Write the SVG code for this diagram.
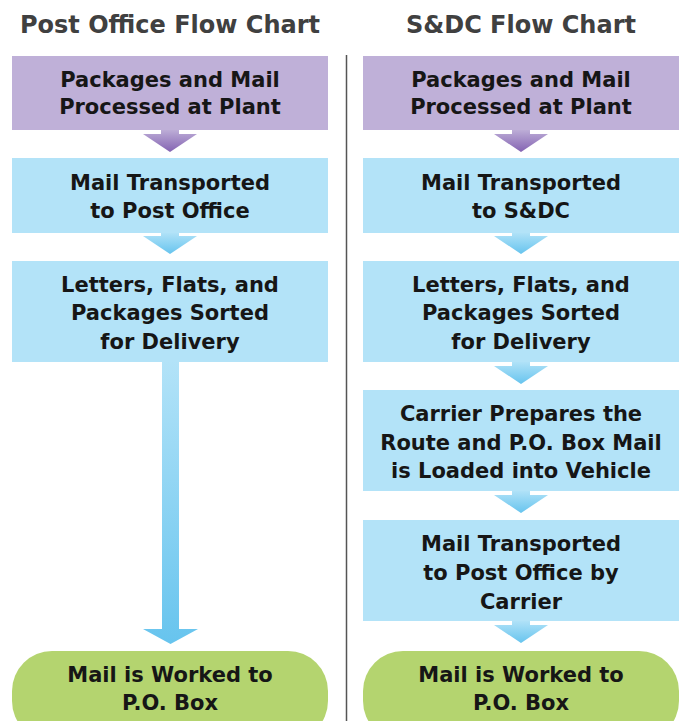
<svg xmlns="http://www.w3.org/2000/svg" width="685" height="721" viewBox="0 0 685 721">
<defs>
<linearGradient id="gp" x1="0" y1="0" x2="0" y2="1"><stop offset="0" stop-color="#bfb0d8"/><stop offset="1" stop-color="#8463b2"/></linearGradient>
<linearGradient id="gb" x1="0" y1="0" x2="0" y2="1"><stop offset="0" stop-color="#b3e3f8"/><stop offset="1" stop-color="#67c4ee"/></linearGradient>
<style>
.t{font-family:"DejaVu Sans","Liberation Sans",sans-serif;font-weight:700;font-size:24px;fill:#404040;text-anchor:middle}
.l{font-family:"DejaVu Sans","Liberation Sans",sans-serif;font-weight:700;font-size:21px;fill:#161616;text-anchor:middle}
.p{fill:#bfb0d8}.b{fill:#b3e3f8}.g{fill:#b4d46f}
</style>
</defs>
<rect width="685" height="721" fill="#fff"/>
<text class="t" x="170" y="33">Post Office Flow Chart</text>
<text class="t" x="521" y="33">S&amp;DC Flow Chart</text>
<line x1="346.5" y1="55" x2="346.5" y2="721" stroke="#555" stroke-width="1.5"/>
<g id="connectors">
<path d="M161,129 H179 V134 H197 L170,152 L143,134 H161 Z" fill="url(#gp)"/>
<path d="M512,129 H530 V134 H548 L521,152 L494,134 H512 Z" fill="url(#gp)"/>
<path d="M161,232 H179 V236 H197 L170,254 L143,236 H161 Z" fill="url(#gb)"/>
<path d="M512,232 H530 V236 H548 L521,254 L494,236 H512 Z" fill="url(#gb)"/>
<path d="M512,361 H530 V366 H548 L521,384 L494,366 H512 Z" fill="url(#gb)"/>
<path d="M512,490 H530 V495 H548 L521,513 L494,495 H512 Z" fill="url(#gb)"/>
<path d="M512,620 H530 V625 H548 L521,643 L494,625 H512 Z" fill="url(#gb)"/>
<path d="M162,361 H179 V629 H198 L170.5,644 L143,629 H162 Z" fill="url(#gb)"/>
</g>
<g id="po1"><rect class="p" x="12" y="56" width="316" height="74"/><text class="l" x="170" y="87">Packages and Mail</text><text class="l" x="170" y="114">Processed at Plant</text></g>
<g id="po2"><rect class="b" x="12" y="158" width="316" height="75"/><text class="l" x="170" y="190">Mail Transported</text><text class="l" x="170" y="218">to Post Office</text></g>
<g id="po3"><rect class="b" x="12" y="261" width="316" height="101"/><text class="l" x="170" y="292">Letters, Flats, and</text><text class="l" x="170" y="320">Packages Sorted</text><text class="l" x="170" y="349">for Delivery</text></g>
<g id="po4"><rect class="g" x="12" y="651" width="316" height="90" rx="40"/><text class="l" x="170" y="682">Mail is Worked to</text><text class="l" x="170" y="710">P.O. Box</text></g>
<g id="sd1"><rect class="p" x="363" y="56" width="316" height="74"/><text class="l" x="521" y="87">Packages and Mail</text><text class="l" x="521" y="114">Processed at Plant</text></g>
<g id="sd2"><rect class="b" x="363" y="158" width="316" height="75"/><text class="l" x="521" y="190">Mail Transported</text><text class="l" x="521" y="218">to S&amp;DC</text></g>
<g id="sd3"><rect class="b" x="363" y="261" width="316" height="101"/><text class="l" x="521" y="292">Letters, Flats, and</text><text class="l" x="521" y="320">Packages Sorted</text><text class="l" x="521" y="349">for Delivery</text></g>
<g id="sd4"><rect class="b" x="363" y="390" width="316" height="101"/><text class="l" x="521" y="421">Carrier Prepares the</text><text class="l" x="521" y="450">Route and P.O. Box Mail</text><text class="l" x="521" y="478">is Loaded into Vehicle</text></g>
<g id="sd5"><rect class="b" x="363" y="520" width="316" height="101"/><text class="l" x="521" y="551">Mail Transported</text><text class="l" x="521" y="580">to Post Office by</text><text class="l" x="521" y="609">Carrier</text></g>
<g id="sd6"><rect class="g" x="363" y="651" width="316" height="90" rx="40"/><text class="l" x="521" y="682">Mail is Worked to</text><text class="l" x="521" y="710">P.O. Box</text></g>
</svg>
